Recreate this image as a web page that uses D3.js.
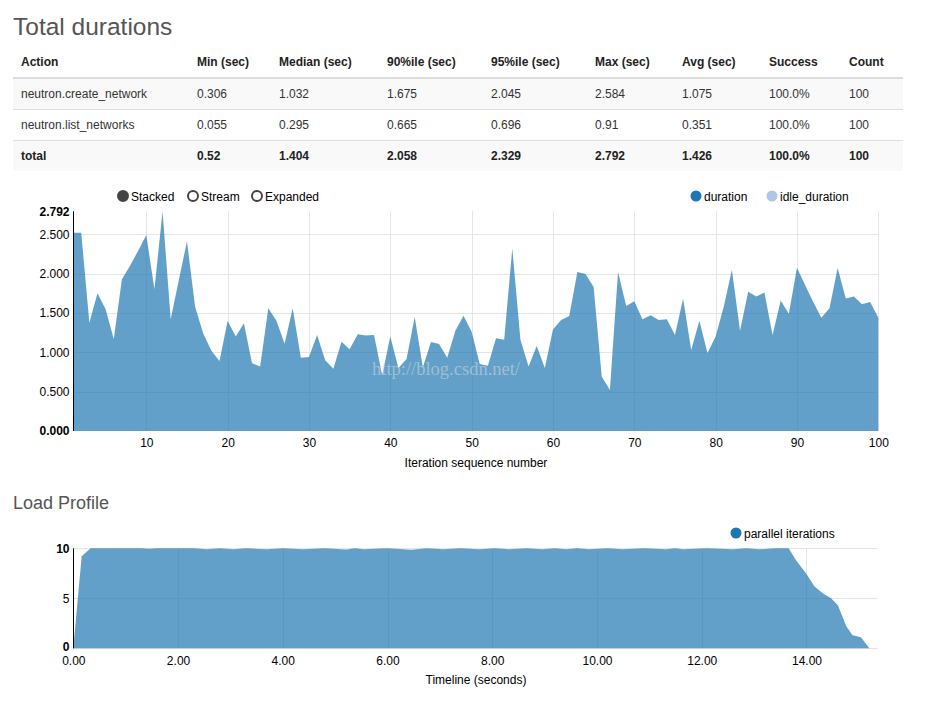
<!DOCTYPE html>
<meta charset="utf-8">
<style>
    body { margin: 0; background: #fff; }
    svg { display: block; font-family: "Liberation Sans", Arial, sans-serif; }
    .title { fill: #555; }
    .cell { font-size: 12px; fill: #333; }
    .head { font-weight: bold; fill: #000; }
    .grid line { stroke: #e5e5e5; stroke-width: 1; shape-rendering: crispEdges; }
    .tick text { font-size: 12px; fill: #000; }
    .area { fill: #1f77b4; fill-opacity: 0.7; }
    .legend text { font-size: 12px; fill: #000; }
</style>
<svg width="932" height="717"></svg>
<script src="https://d3js.org/d3.v7.min.js"></script>
<script>

    // table
    var columns = ["Action", "Min (sec)", "Median (sec)", "90%ile (sec)", "95%ile (sec)", "Max (sec)", "Avg (sec)", "Success", "Count"];
    var rowCreate = ["neutron.create_network", "0.306", "1.032", "1.675", "2.045", "2.584", "1.075", "100.0%", "100"];
    var rowList = ["neutron.list_networks", "0.055", "0.295", "0.665", "0.696", "0.91", "0.351", "100.0%", "100"];
    var rowTotal = ["total", "0.52", "1.404", "2.058", "2.329", "2.792", "1.426", "100.0%", "100"];

    // duration per iteration (sec)
    var iterations = d3.range(1, 101);
    var duration = [
        2.52, 2.52, 1.376, 1.75, 1.546, 1.17, 1.93, 2.10, 2.29, 2.49,
        1.80, 2.792, 1.42, 1.92, 2.41, 1.58, 1.24, 1.02, 0.89, 1.40,
        1.20, 1.37, 0.86, 0.82, 1.56, 1.40, 1.11, 1.56, 0.93, 0.94,
        1.22, 0.90, 0.79, 1.135, 1.04, 1.23, 1.215, 1.22, 0.71, 1.20,
        0.80, 0.915, 1.45, 0.81, 1.13, 1.105, 0.93, 1.275, 1.465, 1.26,
        0.85, 0.83, 1.18, 1.16, 2.32, 1.16, 0.82, 1.08, 0.80, 1.29,
        1.41, 1.46, 2.02, 1.995, 1.83, 0.69, 0.52, 2.02, 1.59, 1.65,
        1.42, 1.47, 1.41, 1.42, 1.22, 1.68, 1.03, 1.40, 0.99, 1.20,
        1.58, 2.05, 1.275, 1.77, 1.71, 1.76, 1.22, 1.66, 1.49, 2.075,
        1.855, 1.64, 1.44, 1.56, 2.07, 1.685, 1.71, 1.61, 1.64, 1.44
    ];
    var durationMax = 2.792;
    var durationTicks = [0, 0.5, 1, 1.5, 2, 2.5];
    var iterTicks = [10, 20, 30, 40, 50, 60, 70, 80, 90, 100];

    // load profile
    var loadTime = [0, 0.16, 0.33, 1.3, 1.45, 1.6, 2.3, 2.55, 2.8, 3.05, 3.3, 3.69, 4.0, 4.39, 4.8, 5.22, 5.38, 5.54,
        6.0, 6.46, 6.75, 7.06, 7.4, 7.75, 8.05, 8.32, 8.65, 8.96, 9.2, 9.41, 9.62, 9.85, 10.2, 10.49, 10.9, 11.32,
        11.48, 11.64, 12.1, 12.6, 12.85, 13.1, 13.4, 13.66, 13.8, 13.99, 14.15, 14.31, 14.47, 14.6, 14.76, 14.88, 15.04, 15.2];
    var loadParallel = [0, 9.2, 10, 10, 9.95, 10, 10, 9.9, 10, 9.9, 10, 9.9, 10, 9.9, 10, 9.88, 10, 9.9,
        10, 9.85, 10, 9.9, 10, 9.9, 10, 9.9, 10, 9.9, 10, 9.9, 10, 9.9, 10, 9.9, 10, 9.9,
        10, 9.9, 10, 9.9, 10, 9.9, 10, 10, 8.8, 7.5, 6.2, 5.5, 5.0, 4.3, 2.2, 1.3, 1.1, 0];
    var timeMax = 15.36;
    var timeTicks = [0, 2, 4, 6, 8, 10, 12, 14];
    var loadTicks = [0, 5, 10];

    var svg = d3.select("svg");

    // ---- Total durations table ----
    svg.append("text").attr("class", "title")
        .attr("x", 13).attr("y", 34.5)
        .style("font-size", "24.5px")
        .text("Total durations");

    var colX = [21, 197, 279, 387, 491, 595, 682, 769, 849];
    var rowTop = [79, 109.5, 140.5], rowH = 30.5;

    svg.append("rect").attr("x", 13).attr("y", rowTop[0]).attr("width", 890).attr("height", rowH).attr("fill", "#f9f9f9");
    svg.append("rect").attr("x", 13).attr("y", rowTop[2]).attr("width", 890).attr("height", rowH).attr("fill", "#f9f9f9");
    svg.append("rect").attr("x", 13).attr("y", 77).attr("width", 890).attr("height", 2).attr("fill", "#ddd");
    svg.append("rect").attr("x", 13).attr("y", 109).attr("width", 890).attr("height", 1).attr("fill", "#ddd");
    svg.append("rect").attr("x", 13).attr("y", 140).attr("width", 890).attr("height", 1).attr("fill", "#ddd");

    function tableRow(vals, y, bold) {
        svg.append("g").selectAll("text")
            .data(vals)
            .enter().append("text")
            .attr("class", bold ? "cell head" : "cell")
            .attr("x", function(d, i) { return colX[i]; })
            .attr("y", y)
            .text(function(d) { return d; });
    }
    tableRow(columns, 66, true);
    tableRow(rowCreate, 97.5, false);
    tableRow(rowList, 128.5, false);
    tableRow(rowTotal, 159.5, true);
    svg.selectAll(".head").style("fill", "#222");

    // ---- duration chart ----
    var x = d3.scaleLinear().domain([1, 100]).range([73.1, 878.3]),
        y = d3.scaleLinear().domain([0, durationMax]).range([431, 211.3]);

    var grid1 = svg.append("g").attr("class", "grid");
    grid1.selectAll(".v").data(iterTicks).enter().append("line")
        .attr("x1", function(d) { return Math.round(x(d)) + 0.5; }).attr("x2", function(d) { return Math.round(x(d)) + 0.5; })
        .attr("y1", y(durationMax)).attr("y2", y(0));
    grid1.selectAll(".h").data(durationTicks.slice(1)).enter().append("line")
        .attr("x1", x(1)).attr("x2", x(100))
        .attr("y1", function(d) { return Math.round(y(d)) + 0.5; }).attr("y2", function(d) { return Math.round(y(d)) + 0.5; });

    var area1 = d3.area()
        .x(function(d, i) { return x(iterations[i]); })
        .y0(y(0))
        .y1(function(d) { return y(d); });
    svg.append("path").datum(duration).attr("class", "area").attr("d", area1);

    svg.append("text")
        .attr("x", 372).attr("y", 375)
        .style("font-family", "'Liberation Serif', 'DejaVu Serif', serif")
        .style("font-size", "18.5px")
        .attr("fill", "#d8d8d8").attr("fill-opacity", 0.55)
        .text("http://blog.csdn.net/");

    svg.append("g")
        .attr("transform", "translate(0,431)")
        .call(d3.axisBottom(x).tickValues(iterTicks).tickSize(0).tickPadding(7))
        .call(function(g) { g.select(".domain").remove(); });

    var yAxis1 = svg.append("g")
        .attr("transform", "translate(73.5,0)")
        .call(d3.axisLeft(y).tickValues(durationTicks.concat([durationMax])).tickFormat(d3.format(".3f")).tickSize(0).tickPadding(4));
    yAxis1.select(".domain").attr("stroke", "#000").attr("stroke-width", 1).attr("d", "M0," + y(durationMax) + "V" + y(0));
    yAxis1.selectAll(".tick text")
        .style("font-weight", function(d) { return (d === 0 || d === durationMax) ? "bold" : null; });

    svg.append("text")
        .attr("x", 476).attr("y", 467).attr("text-anchor", "middle")
        .style("font-size", "12px")
        .text("Iteration sequence number");

    // controls + legend
    var controls = [{name: "Stacked", cx: 123, on: true}, {name: "Stream", cx: 193, on: false}, {name: "Expanded", cx: 257, on: false}];
    var ctl = svg.append("g").attr("class", "legend").selectAll("g").data(controls).enter().append("g")
        .attr("transform", function(d) { return "translate(" + d.cx + ",196)"; });
    ctl.append("circle").attr("r", 5)
        .attr("fill", function(d) { return d.on ? "#444" : "#fff"; })
        .attr("stroke", "#444").attr("stroke-width", 2);
    ctl.append("text").attr("x", 8).attr("y", 4.5).text(function(d) { return d.name; });

    var series = [{name: "duration", color: "#1f77b4", cx: 696}, {name: "idle_duration", color: "#aec7e8", cx: 772}];
    var leg = svg.append("g").attr("class", "legend").selectAll("g").data(series).enter().append("g")
        .attr("transform", function(d) { return "translate(" + d.cx + ",196)"; });
    leg.append("circle").attr("r", 5.5).attr("fill", function(d) { return d.color; });
    leg.append("text").attr("x", 8).attr("y", 4.5).text(function(d) { return d.name; });

    // ---- Load profile ----
    svg.append("text").attr("class", "title")
        .attr("x", 13).attr("y", 509)
        .style("font-size", "18px")
        .text("Load Profile");

    var x2 = d3.scaleLinear().domain([0, timeMax]).range([73.3, 877.7]),
        y2 = d3.scaleLinear().domain([0, 10]).range([648.3, 548.3]);

    var grid2 = svg.append("g").attr("class", "grid");
    grid2.selectAll(".v").data(timeTicks.slice(1)).enter().append("line")
        .attr("x1", function(d) { return Math.round(x2(d)) + 0.5; }).attr("x2", function(d) { return Math.round(x2(d)) + 0.5; })
        .attr("y1", y2(10)).attr("y2", y2(0));
    grid2.selectAll(".h").data(loadTicks).enter().append("line")
        .attr("x1", x2(0)).attr("x2", x2(timeMax))
        .attr("y1", function(d) { return Math.round(y2(d)) + 0.5; }).attr("y2", function(d) { return Math.round(y2(d)) + 0.5; });

    var area2 = d3.area()
        .x(function(d, i) { return x2(loadTime[i]); })
        .y0(y2(0))
        .y1(function(d) { return y2(d); });
    svg.append("path").datum(loadParallel).attr("class", "area").attr("d", area2);

    svg.append("g")
        .attr("transform", "translate(0,649)")
        .call(d3.axisBottom(x2).tickValues(timeTicks).tickFormat(d3.format(".2f")).tickSize(0).tickPadding(7))
        .call(function(g) { g.select(".domain").remove(); });

    var yAxis2 = svg.append("g")
        .attr("transform", "translate(73.5,0)")
        .call(d3.axisLeft(y2).tickValues(loadTicks).tickFormat(d3.format("d")).tickSize(0).tickPadding(4));
    yAxis2.select(".domain").attr("stroke", "#000").attr("stroke-width", 1).attr("d", "M0," + y2(10) + "V" + y2(0));
    yAxis2.selectAll(".tick text")
        .style("font-weight", function(d) { return (d === 0 || d === 10) ? "bold" : null; })
        .attr("dy", function(d) { return d === 0 ? "0.2em" : "0.32em"; });

    svg.append("text")
        .attr("x", 476).attr("y", 684).attr("text-anchor", "middle")
        .style("font-size", "12px")
        .text("Timeline (seconds)");

    var leg2 = svg.append("g").attr("class", "legend").attr("transform", "translate(736,533)");
    leg2.append("circle").attr("r", 5.5).attr("fill", "#1f77b4");
    leg2.append("text").attr("x", 8).attr("y", 4.5).text("parallel iterations");

</script>
